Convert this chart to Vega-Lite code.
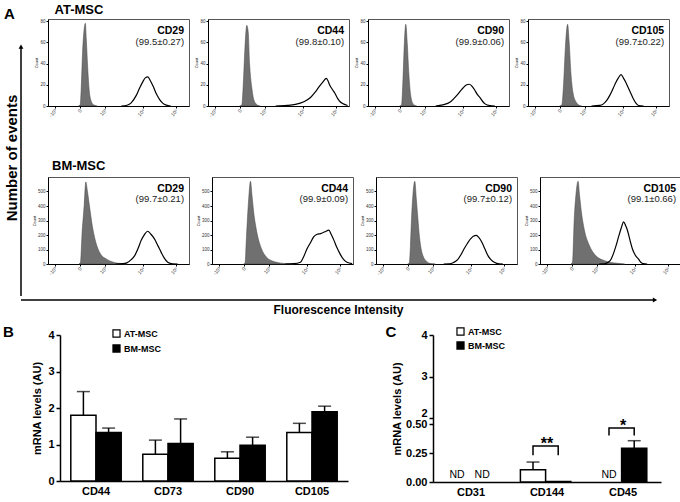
{
"$schema": "https://vega.github.io/schema/vega-lite/v6.json",
"background": "white",
"padding": {"left": 3, "top": 3, "right": 2, "bottom": 2},
"config": {
  "font": "Liberation Sans",
  "view": {"stroke": null},
  "axis": {"domainColor": "black", "tickColor": "black", "labelColor": "black", "titleColor": "black", "grid": false},
  "title": {"color": "black"},
  "legend": {"labelColor": "black"}
},
"resolve": {"scale": {"fill": "independent"}, "legend": {"fill": "independent"}},
"datasets": {
  "hist": [
    {"cell":"AT-MSC","marker":"CD29","s":"lab","name":"CD29","pct":"(99.5±0.27)"},
    {"cell":"AT-MSC","marker":"CD44","s":"lab","name":"CD44","pct":"(99.8±0.10)"},
    {"cell":"AT-MSC","marker":"CD90","s":"lab","name":"CD90","pct":"(99.9±0.06)"},
    {"cell":"AT-MSC","marker":"CD105","s":"lab","name":"CD105","pct":"(99.7±0.22)"},
    {"cell":"BM-MSC","marker":"CD29","s":"lab","name":"CD29","pct":"(99.7±0.21)"},
    {"cell":"BM-MSC","marker":"CD44","s":"lab","name":"CD44","pct":"(99.9±0.09)"},
    {"cell":"BM-MSC","marker":"CD90","s":"lab","name":"CD90","pct":"(99.7±0.12)"},
    {"cell":"BM-MSC","marker":"CD105","s":"lab","name":"CD105","pct":"(99.1±0.66)"},

    {"cell":"AT-MSC","marker":"CD29","s":"iso","ch":215,"n":0},
    {"cell":"AT-MSC","marker":"CD29","s":"iso","ch":228,"n":1},
    {"cell":"AT-MSC","marker":"CD29","s":"iso","ch":235,"n":15},
    {"cell":"AT-MSC","marker":"CD29","s":"iso","ch":245,"n":50},
    {"cell":"AT-MSC","marker":"CD29","s":"iso","ch":256,"n":72},
    {"cell":"AT-MSC","marker":"CD29","s":"iso","ch":265,"n":78},
    {"cell":"AT-MSC","marker":"CD29","s":"iso","ch":272,"n":62},
    {"cell":"AT-MSC","marker":"CD29","s":"iso","ch":282,"n":35},
    {"cell":"AT-MSC","marker":"CD29","s":"iso","ch":292,"n":15},
    {"cell":"AT-MSC","marker":"CD29","s":"iso","ch":305,"n":5},
    {"cell":"AT-MSC","marker":"CD29","s":"iso","ch":320,"n":1.5},
    {"cell":"AT-MSC","marker":"CD29","s":"iso","ch":350,"n":0},
    {"cell":"AT-MSC","marker":"CD29","s":"sample","ch":520,"n":0},
    {"cell":"AT-MSC","marker":"CD29","s":"sample","ch":555,"n":0.5},
    {"cell":"AT-MSC","marker":"CD29","s":"sample","ch":590,"n":3},
    {"cell":"AT-MSC","marker":"CD29","s":"sample","ch":626,"n":10},
    {"cell":"AT-MSC","marker":"CD29","s":"sample","ch":650,"n":17},
    {"cell":"AT-MSC","marker":"CD29","s":"sample","ch":673,"n":23},
    {"cell":"AT-MSC","marker":"CD29","s":"sample","ch":690,"n":26.5},
    {"cell":"AT-MSC","marker":"CD29","s":"sample","ch":709,"n":27.5},
    {"cell":"AT-MSC","marker":"CD29","s":"sample","ch":725,"n":24},
    {"cell":"AT-MSC","marker":"CD29","s":"sample","ch":744,"n":19},
    {"cell":"AT-MSC","marker":"CD29","s":"sample","ch":770,"n":11},
    {"cell":"AT-MSC","marker":"CD29","s":"sample","ch":792,"n":6},
    {"cell":"AT-MSC","marker":"CD29","s":"sample","ch":815,"n":2.5},
    {"cell":"AT-MSC","marker":"CD29","s":"sample","ch":839,"n":0.8},
    {"cell":"AT-MSC","marker":"CD29","s":"sample","ch":870,"n":0},

    {"cell":"AT-MSC","marker":"CD44","s":"iso","ch":225,"n":0},
    {"cell":"AT-MSC","marker":"CD44","s":"iso","ch":240,"n":1},
    {"cell":"AT-MSC","marker":"CD44","s":"iso","ch":250,"n":20},
    {"cell":"AT-MSC","marker":"CD44","s":"iso","ch":262,"n":55},
    {"cell":"AT-MSC","marker":"CD44","s":"iso","ch":275,"n":76},
    {"cell":"AT-MSC","marker":"CD44","s":"iso","ch":285,"n":70},
    {"cell":"AT-MSC","marker":"CD44","s":"iso","ch":295,"n":40},
    {"cell":"AT-MSC","marker":"CD44","s":"iso","ch":310,"n":18},
    {"cell":"AT-MSC","marker":"CD44","s":"iso","ch":325,"n":6},
    {"cell":"AT-MSC","marker":"CD44","s":"iso","ch":345,"n":1.5},
    {"cell":"AT-MSC","marker":"CD44","s":"iso","ch":370,"n":0},
    {"cell":"AT-MSC","marker":"CD44","s":"sample","ch":480,"n":0},
    {"cell":"AT-MSC","marker":"CD44","s":"sample","ch":560,"n":0.5},
    {"cell":"AT-MSC","marker":"CD44","s":"sample","ch":620,"n":1.5},
    {"cell":"AT-MSC","marker":"CD44","s":"sample","ch":680,"n":4},
    {"cell":"AT-MSC","marker":"CD44","s":"sample","ch":727,"n":8},
    {"cell":"AT-MSC","marker":"CD44","s":"sample","ch":760,"n":13},
    {"cell":"AT-MSC","marker":"CD44","s":"sample","ch":787,"n":18},
    {"cell":"AT-MSC","marker":"CD44","s":"sample","ch":817,"n":23},
    {"cell":"AT-MSC","marker":"CD44","s":"sample","ch":839,"n":26},
    {"cell":"AT-MSC","marker":"CD44","s":"sample","ch":850,"n":24},
    {"cell":"AT-MSC","marker":"CD44","s":"sample","ch":862,"n":20},
    {"cell":"AT-MSC","marker":"CD44","s":"sample","ch":880,"n":16},
    {"cell":"AT-MSC","marker":"CD44","s":"sample","ch":900,"n":12},
    {"cell":"AT-MSC","marker":"CD44","s":"sample","ch":920,"n":7},
    {"cell":"AT-MSC","marker":"CD44","s":"sample","ch":937,"n":4},
    {"cell":"AT-MSC","marker":"CD44","s":"sample","ch":960,"n":2},
    {"cell":"AT-MSC","marker":"CD44","s":"sample","ch":990,"n":0.5},

    {"cell":"AT-MSC","marker":"CD90","s":"iso","ch":225,"n":0},
    {"cell":"AT-MSC","marker":"CD90","s":"iso","ch":238,"n":1},
    {"cell":"AT-MSC","marker":"CD90","s":"iso","ch":248,"n":25},
    {"cell":"AT-MSC","marker":"CD90","s":"iso","ch":258,"n":60},
    {"cell":"AT-MSC","marker":"CD90","s":"iso","ch":268,"n":77},
    {"cell":"AT-MSC","marker":"CD90","s":"iso","ch":278,"n":60},
    {"cell":"AT-MSC","marker":"CD90","s":"iso","ch":290,"n":30},
    {"cell":"AT-MSC","marker":"CD90","s":"iso","ch":303,"n":10},
    {"cell":"AT-MSC","marker":"CD90","s":"iso","ch":320,"n":2},
    {"cell":"AT-MSC","marker":"CD90","s":"iso","ch":345,"n":0},
    {"cell":"AT-MSC","marker":"CD90","s":"sample","ch":480,"n":0},
    {"cell":"AT-MSC","marker":"CD90","s":"sample","ch":530,"n":1},
    {"cell":"AT-MSC","marker":"CD90","s":"sample","ch":586,"n":4},
    {"cell":"AT-MSC","marker":"CD90","s":"sample","ch":630,"n":10},
    {"cell":"AT-MSC","marker":"CD90","s":"sample","ch":674,"n":17},
    {"cell":"AT-MSC","marker":"CD90","s":"sample","ch":700,"n":20},
    {"cell":"AT-MSC","marker":"CD90","s":"sample","ch":719,"n":20.5},
    {"cell":"AT-MSC","marker":"CD90","s":"sample","ch":735,"n":19},
    {"cell":"AT-MSC","marker":"CD90","s":"sample","ch":752,"n":16},
    {"cell":"AT-MSC","marker":"CD90","s":"sample","ch":775,"n":11},
    {"cell":"AT-MSC","marker":"CD90","s":"sample","ch":799,"n":7},
    {"cell":"AT-MSC","marker":"CD90","s":"sample","ch":815,"n":4},
    {"cell":"AT-MSC","marker":"CD90","s":"sample","ch":830,"n":2},
    {"cell":"AT-MSC","marker":"CD90","s":"sample","ch":864,"n":0.3},
    {"cell":"AT-MSC","marker":"CD90","s":"sample","ch":900,"n":0},

    {"cell":"AT-MSC","marker":"CD105","s":"iso","ch":225,"n":0},
    {"cell":"AT-MSC","marker":"CD105","s":"iso","ch":240,"n":1},
    {"cell":"AT-MSC","marker":"CD105","s":"iso","ch":252,"n":20},
    {"cell":"AT-MSC","marker":"CD105","s":"iso","ch":265,"n":55},
    {"cell":"AT-MSC","marker":"CD105","s":"iso","ch":281,"n":77},
    {"cell":"AT-MSC","marker":"CD105","s":"iso","ch":292,"n":60},
    {"cell":"AT-MSC","marker":"CD105","s":"iso","ch":305,"n":30},
    {"cell":"AT-MSC","marker":"CD105","s":"iso","ch":320,"n":12},
    {"cell":"AT-MSC","marker":"CD105","s":"iso","ch":340,"n":4},
    {"cell":"AT-MSC","marker":"CD105","s":"iso","ch":360,"n":1},
    {"cell":"AT-MSC","marker":"CD105","s":"iso","ch":380,"n":0},
    {"cell":"AT-MSC","marker":"CD105","s":"sample","ch":450,"n":0},
    {"cell":"AT-MSC","marker":"CD105","s":"sample","ch":508,"n":0.5},
    {"cell":"AT-MSC","marker":"CD105","s":"sample","ch":535,"n":2},
    {"cell":"AT-MSC","marker":"CD105","s":"sample","ch":557,"n":5},
    {"cell":"AT-MSC","marker":"CD105","s":"sample","ch":580,"n":10},
    {"cell":"AT-MSC","marker":"CD105","s":"sample","ch":605,"n":17},
    {"cell":"AT-MSC","marker":"CD105","s":"sample","ch":622,"n":22},
    {"cell":"AT-MSC","marker":"CD105","s":"sample","ch":639,"n":26},
    {"cell":"AT-MSC","marker":"CD105","s":"sample","ch":660,"n":29.5},
    {"cell":"AT-MSC","marker":"CD105","s":"sample","ch":678,"n":26},
    {"cell":"AT-MSC","marker":"CD105","s":"sample","ch":695,"n":22},
    {"cell":"AT-MSC","marker":"CD105","s":"sample","ch":712,"n":17},
    {"cell":"AT-MSC","marker":"CD105","s":"sample","ch":729,"n":12},
    {"cell":"AT-MSC","marker":"CD105","s":"sample","ch":746,"n":7},
    {"cell":"AT-MSC","marker":"CD105","s":"sample","ch":764,"n":3},
    {"cell":"AT-MSC","marker":"CD105","s":"sample","ch":784,"n":0.5},
    {"cell":"AT-MSC","marker":"CD105","s":"sample","ch":820,"n":0},

    {"cell":"BM-MSC","marker":"CD29","s":"iso","ch":220,"n":0},
    {"cell":"BM-MSC","marker":"CD29","s":"iso","ch":230,"n":10},
    {"cell":"BM-MSC","marker":"CD29","s":"iso","ch":241,"n":200},
    {"cell":"BM-MSC","marker":"CD29","s":"iso","ch":257,"n":410},
    {"cell":"BM-MSC","marker":"CD29","s":"iso","ch":268,"n":566},
    {"cell":"BM-MSC","marker":"CD29","s":"iso","ch":280,"n":500},
    {"cell":"BM-MSC","marker":"CD29","s":"iso","ch":293,"n":408},
    {"cell":"BM-MSC","marker":"CD29","s":"iso","ch":315,"n":259},
    {"cell":"BM-MSC","marker":"CD29","s":"iso","ch":338,"n":154},
    {"cell":"BM-MSC","marker":"CD29","s":"iso","ch":372,"n":70},
    {"cell":"BM-MSC","marker":"CD29","s":"iso","ch":413,"n":35},
    {"cell":"BM-MSC","marker":"CD29","s":"iso","ch":459,"n":14},
    {"cell":"BM-MSC","marker":"CD29","s":"iso","ch":526,"n":2},
    {"cell":"BM-MSC","marker":"CD29","s":"iso","ch":560,"n":0},
    {"cell":"BM-MSC","marker":"CD29","s":"sample","ch":480,"n":0},
    {"cell":"BM-MSC","marker":"CD29","s":"sample","ch":530,"n":2},
    {"cell":"BM-MSC","marker":"CD29","s":"sample","ch":559,"n":8},
    {"cell":"BM-MSC","marker":"CD29","s":"sample","ch":590,"n":30},
    {"cell":"BM-MSC","marker":"CD29","s":"sample","ch":615,"n":58},
    {"cell":"BM-MSC","marker":"CD29","s":"sample","ch":640,"n":110},
    {"cell":"BM-MSC","marker":"CD29","s":"sample","ch":661,"n":163},
    {"cell":"BM-MSC","marker":"CD29","s":"sample","ch":685,"n":205},
    {"cell":"BM-MSC","marker":"CD29","s":"sample","ch":707,"n":226},
    {"cell":"BM-MSC","marker":"CD29","s":"sample","ch":730,"n":205},
    {"cell":"BM-MSC","marker":"CD29","s":"sample","ch":754,"n":175},
    {"cell":"BM-MSC","marker":"CD29","s":"sample","ch":780,"n":125},
    {"cell":"BM-MSC","marker":"CD29","s":"sample","ch":802,"n":82},
    {"cell":"BM-MSC","marker":"CD29","s":"sample","ch":825,"n":40},
    {"cell":"BM-MSC","marker":"CD29","s":"sample","ch":849,"n":12},
    {"cell":"BM-MSC","marker":"CD29","s":"sample","ch":884,"n":1},
    {"cell":"BM-MSC","marker":"CD29","s":"sample","ch":920,"n":0},

    {"cell":"BM-MSC","marker":"CD44","s":"iso","ch":225,"n":0},
    {"cell":"BM-MSC","marker":"CD44","s":"iso","ch":234,"n":5},
    {"cell":"BM-MSC","marker":"CD44","s":"iso","ch":245,"n":200},
    {"cell":"BM-MSC","marker":"CD44","s":"iso","ch":259,"n":433},
    {"cell":"BM-MSC","marker":"CD44","s":"iso","ch":273,"n":571},
    {"cell":"BM-MSC","marker":"CD44","s":"iso","ch":284,"n":470},
    {"cell":"BM-MSC","marker":"CD44","s":"iso","ch":295,"n":363},
    {"cell":"BM-MSC","marker":"CD44","s":"iso","ch":317,"n":224},
    {"cell":"BM-MSC","marker":"CD44","s":"iso","ch":351,"n":105},
    {"cell":"BM-MSC","marker":"CD44","s":"iso","ch":385,"n":49},
    {"cell":"BM-MSC","marker":"CD44","s":"iso","ch":443,"n":16},
    {"cell":"BM-MSC","marker":"CD44","s":"iso","ch":532,"n":2},
    {"cell":"BM-MSC","marker":"CD44","s":"iso","ch":580,"n":0},
    {"cell":"BM-MSC","marker":"CD44","s":"sample","ch":520,"n":0},
    {"cell":"BM-MSC","marker":"CD44","s":"sample","ch":580,"n":2},
    {"cell":"BM-MSC","marker":"CD44","s":"sample","ch":627,"n":12},
    {"cell":"BM-MSC","marker":"CD44","s":"sample","ch":650,"n":50},
    {"cell":"BM-MSC","marker":"CD44","s":"sample","ch":674,"n":105},
    {"cell":"BM-MSC","marker":"CD44","s":"sample","ch":700,"n":150},
    {"cell":"BM-MSC","marker":"CD44","s":"sample","ch":721,"n":187},
    {"cell":"BM-MSC","marker":"CD44","s":"sample","ch":745,"n":205},
    {"cell":"BM-MSC","marker":"CD44","s":"sample","ch":769,"n":210},
    {"cell":"BM-MSC","marker":"CD44","s":"sample","ch":800,"n":222},
    {"cell":"BM-MSC","marker":"CD44","s":"sample","ch":829,"n":233},
    {"cell":"BM-MSC","marker":"CD44","s":"sample","ch":845,"n":205},
    {"cell":"BM-MSC","marker":"CD44","s":"sample","ch":865,"n":163},
    {"cell":"BM-MSC","marker":"CD44","s":"sample","ch":885,"n":115},
    {"cell":"BM-MSC","marker":"CD44","s":"sample","ch":908,"n":70},
    {"cell":"BM-MSC","marker":"CD44","s":"sample","ch":930,"n":35},
    {"cell":"BM-MSC","marker":"CD44","s":"sample","ch":957,"n":12},
    {"cell":"BM-MSC","marker":"CD44","s":"sample","ch":994,"n":3},

    {"cell":"BM-MSC","marker":"CD90","s":"iso","ch":225,"n":0},
    {"cell":"BM-MSC","marker":"CD90","s":"iso","ch":236,"n":5},
    {"cell":"BM-MSC","marker":"CD90","s":"iso","ch":244,"n":120},
    {"cell":"BM-MSC","marker":"CD90","s":"iso","ch":252,"n":315},
    {"cell":"BM-MSC","marker":"CD90","s":"iso","ch":262,"n":480},
    {"cell":"BM-MSC","marker":"CD90","s":"iso","ch":275,"n":571},
    {"cell":"BM-MSC","marker":"CD90","s":"iso","ch":286,"n":450},
    {"cell":"BM-MSC","marker":"CD90","s":"iso","ch":297,"n":315},
    {"cell":"BM-MSC","marker":"CD90","s":"iso","ch":308,"n":190},
    {"cell":"BM-MSC","marker":"CD90","s":"iso","ch":320,"n":105},
    {"cell":"BM-MSC","marker":"CD90","s":"iso","ch":336,"n":50},
    {"cell":"BM-MSC","marker":"CD90","s":"iso","ch":354,"n":23},
    {"cell":"BM-MSC","marker":"CD90","s":"iso","ch":388,"n":3},
    {"cell":"BM-MSC","marker":"CD90","s":"iso","ch":420,"n":0},
    {"cell":"BM-MSC","marker":"CD90","s":"sample","ch":480,"n":0},
    {"cell":"BM-MSC","marker":"CD90","s":"sample","ch":521,"n":1},
    {"cell":"BM-MSC","marker":"CD90","s":"sample","ch":550,"n":10},
    {"cell":"BM-MSC","marker":"CD90","s":"sample","ch":579,"n":30},
    {"cell":"BM-MSC","marker":"CD90","s":"sample","ch":600,"n":60},
    {"cell":"BM-MSC","marker":"CD90","s":"sample","ch":625,"n":105},
    {"cell":"BM-MSC","marker":"CD90","s":"sample","ch":650,"n":145},
    {"cell":"BM-MSC","marker":"CD90","s":"sample","ch":672,"n":175},
    {"cell":"BM-MSC","marker":"CD90","s":"sample","ch":690,"n":192},
    {"cell":"BM-MSC","marker":"CD90","s":"sample","ch":712,"n":198},
    {"cell":"BM-MSC","marker":"CD90","s":"sample","ch":730,"n":182},
    {"cell":"BM-MSC","marker":"CD90","s":"sample","ch":750,"n":152},
    {"cell":"BM-MSC","marker":"CD90","s":"sample","ch":772,"n":105},
    {"cell":"BM-MSC","marker":"CD90","s":"sample","ch":794,"n":58},
    {"cell":"BM-MSC","marker":"CD90","s":"sample","ch":815,"n":30},
    {"cell":"BM-MSC","marker":"CD90","s":"sample","ch":839,"n":12},
    {"cell":"BM-MSC","marker":"CD90","s":"sample","ch":873,"n":1},
    {"cell":"BM-MSC","marker":"CD90","s":"sample","ch":900,"n":0},

    {"cell":"BM-MSC","marker":"CD105","s":"iso","ch":220,"n":0},
    {"cell":"BM-MSC","marker":"CD105","s":"iso","ch":230,"n":10},
    {"cell":"BM-MSC","marker":"CD105","s":"iso","ch":243,"n":315},
    {"cell":"BM-MSC","marker":"CD105","s":"iso","ch":256,"n":490},
    {"cell":"BM-MSC","marker":"CD105","s":"iso","ch":270,"n":571},
    {"cell":"BM-MSC","marker":"CD105","s":"iso","ch":281,"n":470},
    {"cell":"BM-MSC","marker":"CD105","s":"iso","ch":293,"n":363},
    {"cell":"BM-MSC","marker":"CD105","s":"iso","ch":315,"n":233},
    {"cell":"BM-MSC","marker":"CD105","s":"iso","ch":350,"n":128},
    {"cell":"BM-MSC","marker":"CD105","s":"iso","ch":395,"n":58},
    {"cell":"BM-MSC","marker":"CD105","s":"iso","ch":458,"n":23},
    {"cell":"BM-MSC","marker":"CD105","s":"iso","ch":549,"n":5},
    {"cell":"BM-MSC","marker":"CD105","s":"iso","ch":600,"n":0},
    {"cell":"BM-MSC","marker":"CD105","s":"sample","ch":420,"n":0},
    {"cell":"BM-MSC","marker":"CD105","s":"sample","ch":458,"n":1},
    {"cell":"BM-MSC","marker":"CD105","s":"sample","ch":480,"n":10},
    {"cell":"BM-MSC","marker":"CD105","s":"sample","ch":505,"n":35},
    {"cell":"BM-MSC","marker":"CD105","s":"sample","ch":522,"n":75},
    {"cell":"BM-MSC","marker":"CD105","s":"sample","ch":540,"n":128},
    {"cell":"BM-MSC","marker":"CD105","s":"sample","ch":558,"n":190},
    {"cell":"BM-MSC","marker":"CD105","s":"sample","ch":575,"n":245},
    {"cell":"BM-MSC","marker":"CD105","s":"sample","ch":593,"n":291},
    {"cell":"BM-MSC","marker":"CD105","s":"sample","ch":607,"n":265},
    {"cell":"BM-MSC","marker":"CD105","s":"sample","ch":620,"n":233},
    {"cell":"BM-MSC","marker":"CD105","s":"sample","ch":638,"n":165},
    {"cell":"BM-MSC","marker":"CD105","s":"sample","ch":655,"n":105},
    {"cell":"BM-MSC","marker":"CD105","s":"sample","ch":676,"n":60},
    {"cell":"BM-MSC","marker":"CD105","s":"sample","ch":698,"n":35},
    {"cell":"BM-MSC","marker":"CD105","s":"sample","ch":715,"n":12},
    {"cell":"BM-MSC","marker":"CD105","s":"sample","ch":733,"n":2},
    {"cell":"BM-MSC","marker":"CD105","s":"sample","ch":760,"n":0}
  ],
  "b": [
    {"marker":"CD44","group":"AT-MSC","mean":1.8,"upper":2.45},
    {"marker":"CD44","group":"BM-MSC","mean":1.33,"upper":1.45},
    {"marker":"CD73","group":"AT-MSC","mean":0.73,"upper":1.12},
    {"marker":"CD73","group":"BM-MSC","mean":1.03,"upper":1.7},
    {"marker":"CD90","group":"AT-MSC","mean":0.62,"upper":0.8},
    {"marker":"CD90","group":"BM-MSC","mean":0.98,"upper":1.2},
    {"marker":"CD105","group":"AT-MSC","mean":1.33,"upper":1.58},
    {"marker":"CD105","group":"BM-MSC","mean":1.9,"upper":2.05}
  ],
  "c": [
    {"marker":"CD31","group":"AT-MSC","nd":true},
    {"marker":"CD31","group":"BM-MSC","nd":true},
    {"marker":"CD144","group":"AT-MSC","nd":false,"mean":0.106,"upper":0.172},
    {"marker":"CD144","group":"BM-MSC","nd":false,"mean":0.005},
    {"marker":"CD45","group":"AT-MSC","nd":true},
    {"marker":"CD45","group":"BM-MSC","nd":false,"mean":0.292,"upper":0.356}
  ],
  "br": [
    {"marker":"CD144","group":"AT-MSC","v":0.23,"k":1},
    {"marker":"CD144","group":"AT-MSC","v":0.31,"k":2},
    {"marker":"CD144","group":"BM-MSC","v":0.31,"k":3},
    {"marker":"CD144","group":"BM-MSC","v":0.23,"k":4},
    {"marker":"CD45","group":"AT-MSC","v":0.40,"k":1},
    {"marker":"CD45","group":"AT-MSC","v":0.465,"k":2},
    {"marker":"CD45","group":"BM-MSC","v":0.465,"k":3},
    {"marker":"CD45","group":"BM-MSC","v":0.40,"k":4}
  ],
  "star": [
    {"marker":"CD144","v":0.31,"label":"**"},
    {"marker":"CD45","v":0.465,"label":"*"}
  ]
},
"spacing": 10,
"vconcat": [
  {
    "spacing": 0,
    "vconcat": [
      {
        "spacing": 0,
        "hconcat": [
          {
            "width": 10, "height": 277,
            "title": {"text": "A", "anchor": "start", "frame": "bounds", "fontSize": 15, "fontWeight": "bold", "offset": -3},
            "data": {"values": [{}]},
            "layer": [
              {"mark": {"type": "rule", "color": "black", "strokeWidth": 1.5},
               "encoding": {
                 "x": {"datum": 0, "type": "quantitative", "scale": {"domain": [0, 1], "nice": false}, "axis": null},
                 "y": {"datum": 0, "type": "quantitative", "scale": {"domain": [0, 1], "nice": false},
                       "axis": {"title": "Number of events", "titleFontSize": 15, "titleFontWeight": "bold", "titlePadding": 2, "domain": false, "ticks": false, "labels": false}},
                 "y2": {"datum": 0.9}}},
              {"mark": {"type": "point", "shape": "triangle-up", "filled": true, "color": "black", "size": 24, "opacity": 1},
               "encoding": {"x": {"datum": 0, "type": "quantitative"}, "y": {"datum": 0.9, "type": "quantitative"}}}
            ]
          },
          {
            "spacing": 40,
            "vconcat": [
              {
                "data": {"name": "hist"},
                "transform": [{"filter": "datum.cell === 'AT-MSC'"}],
                "title": {"text": "AT-MSC", "anchor": "start", "frame": "bounds", "dx": 20, "fontSize": 13, "fontWeight": "bold", "offset": 1},
                "facet": {"column": {"field": "marker", "type": "nominal", "sort": ["CD29", "CD44", "CD90", "CD105"], "header": {"labels": false, "title": null}}},
                "spacing": 3,
                "resolve": {"axis": {"x": "independent", "y": "independent"}},
                "spec": {
                  "width": 141, "height": 87,
                  "view": {"stroke": "#555"},
                  "layer": [
                    {"transform": [{"filter": "datum.s === 'iso'"}],
                     "mark": {"type": "area", "color": "#707070", "interpolate": "monotone", "stroke": "#444", "strokeWidth": 0.5},
                     "encoding": {
                       "x": {"field": "ch", "type": "quantitative", "scale": {"domain": [0, 1000], "nice": false},
                             "axis": {"values": [50, 227, 404, 674, 908], "tickCount": 20, "labelExpr": "datum.value == 50 ? '-10³' : datum.value == 227 ? '0' : datum.value == 404 ? '10³' : datum.value == 674 ? '10⁴' : '10⁵'", "title": null, "labelFontSize": 5, "labelAngle": -50, "tickSize": 2, "labelPadding": 1, "labelColor": "#333", "labelOverlap": false}},
                       "y": {"field": "n", "type": "quantitative", "scale": {"domain": [0, 82], "nice": false},
                             "axis": {"values": [0, 20, 40, 60, 80], "tickCount": 20, "format": "d", "title": "Count", "titleFontSize": 4, "titleFontWeight": "normal", "titlePadding": 1, "labelFontSize": 4.5, "tickSize": 2, "labelPadding": 1, "labelColor": "#333", "labelOverlap": false}}}},
                    {"transform": [{"filter": "datum.s === 'sample'"}],
                     "mark": {"type": "line", "color": "black", "strokeWidth": 1.2, "interpolate": "monotone"},
                     "encoding": {"x": {"field": "ch", "type": "quantitative"}, "y": {"field": "n", "type": "quantitative"}}},
                    {"transform": [{"filter": "datum.s === 'lab'"}],
                     "mark": {"type": "text", "align": "right", "baseline": "middle", "fontWeight": "bold", "fontSize": 10.5, "color": "black"},
                     "encoding": {"x": {"datum": 965, "type": "quantitative"}, "y": {"datum": 71, "type": "quantitative"}, "text": {"field": "name"}}},
                    {"transform": [{"filter": "datum.s === 'lab'"}],
                     "mark": {"type": "text", "align": "right", "baseline": "middle", "fontSize": 9.5, "color": "#222"},
                     "encoding": {"x": {"datum": 965, "type": "quantitative"}, "y": {"datum": 60, "type": "quantitative"}, "text": {"field": "pct"}}}
                  ]
                }
              },
              {
                "data": {"name": "hist"},
                "transform": [{"filter": "datum.cell === 'BM-MSC'"}],
                "title": {"text": "BM-MSC", "anchor": "start", "frame": "bounds", "dx": 20, "fontSize": 13, "fontWeight": "bold", "offset": 4},
                "facet": {"column": {"field": "marker", "type": "nominal", "sort": ["CD29", "CD44", "CD90", "CD105"], "header": {"labels": false, "title": null}}},
                "spacing": 3,
                "resolve": {"axis": {"x": "independent", "y": "independent"}},
                "spec": {
                  "width": 141, "height": 87,
                  "view": {"stroke": "#555"},
                  "layer": [
                    {"transform": [{"filter": "datum.s === 'iso'"}],
                     "mark": {"type": "area", "color": "#707070", "interpolate": "monotone", "stroke": "#444", "strokeWidth": 0.5},
                     "encoding": {
                       "x": {"field": "ch", "type": "quantitative", "scale": {"domain": [0, 1000], "nice": false},
                             "axis": {"values": [50, 227, 404, 674, 908], "tickCount": 20, "labelExpr": "datum.value == 50 ? '-10³' : datum.value == 227 ? '0' : datum.value == 404 ? '10³' : datum.value == 674 ? '10⁴' : '10⁵'", "title": null, "labelFontSize": 5, "labelAngle": -50, "tickSize": 2, "labelPadding": 1, "labelColor": "#333", "labelOverlap": false}},
                       "y": {"field": "n", "type": "quantitative", "scale": {"domain": [0, 600], "nice": false},
                             "axis": {"values": [0, 100, 200, 300, 400, 500], "tickCount": 20, "format": "d", "title": "Count", "titleFontSize": 4, "titleFontWeight": "normal", "titlePadding": 1, "labelFontSize": 4.5, "tickSize": 2, "labelPadding": 1, "labelColor": "#333", "labelOverlap": false}}}},
                    {"transform": [{"filter": "datum.s === 'sample'"}],
                     "mark": {"type": "line", "color": "black", "strokeWidth": 1.2, "interpolate": "monotone"},
                     "encoding": {"x": {"field": "ch", "type": "quantitative"}, "y": {"field": "n", "type": "quantitative"}}},
                    {"transform": [{"filter": "datum.s === 'lab'"}],
                     "mark": {"type": "text", "align": "right", "baseline": "middle", "fontWeight": "bold", "fontSize": 10.5, "color": "black"},
                     "encoding": {"x": {"datum": 965, "type": "quantitative"}, "y": {"datum": 520, "type": "quantitative"}, "text": {"field": "name"}}},
                    {"transform": [{"filter": "datum.s === 'lab'"}],
                     "mark": {"type": "text", "align": "right", "baseline": "middle", "fontSize": 9.5, "color": "#222"},
                     "encoding": {"x": {"datum": 965, "type": "quantitative"}, "y": {"datum": 445, "type": "quantitative"}, "text": {"field": "pct"}}}
                  ]
                }
              }
            ]
          }
        ]
      },
      {
        "width": 634, "height": 1,
        "data": {"values": [{}]},
        "layer": [
          {"mark": {"type": "rule", "color": "black", "strokeWidth": 1.5},
           "encoding": {
             "x": {"datum": 0, "type": "quantitative", "scale": {"domain": [0, 1], "nice": false},
                   "axis": {"title": "Fluorescence Intensity", "titleFontSize": 12, "titleFontWeight": "bold", "titlePadding": 3, "domain": false, "ticks": false, "labels": false}},
             "x2": {"datum": 1},
             "y": {"datum": 1, "type": "quantitative", "scale": {"domain": [0, 1], "nice": false}, "axis": null}}},
          {"mark": {"type": "point", "shape": "triangle-right", "filled": true, "color": "black", "size": 24, "opacity": 1},
           "encoding": {"x": {"datum": 1, "type": "quantitative"}, "y": {"datum": 1, "type": "quantitative"}}}
        ]
      }
    ]
  },
  {
    "spacing": 6,
    "resolve": {"scale": {"fill": "independent"}, "legend": {"fill": "independent"}},
    "hconcat": [
      {
        "width": 1, "height": 146,
        "title": {"text": "B", "anchor": "start", "frame": "group", "fontSize": 15, "fontWeight": "bold", "dx": -18, "offset": -5},
        "data": {"values": [{}]},
        "mark": {"type": "point", "opacity": 0},
        "encoding": {}
      },
      {
        "spacing": 37,
        "resolve": {"scale": {"fill": "independent"}, "legend": {"fill": "independent"}},
        "hconcat": [
          {
            "width": 288, "height": 146,
            "data": {"name": "b"},
            "encoding": {
              "x": {"field": "marker", "type": "nominal", "sort": ["CD44", "CD73", "CD90", "CD105"], "scale": {"paddingInner": 0.3, "paddingOuter": 0.15},
                    "axis": {"title": null, "labelAngle": 0, "ticks": false, "labelFontSize": 11, "labelFontWeight": "bold", "domainWidth": 1.5, "labelPadding": 4}},
              "xOffset": {"field": "group", "type": "nominal", "sort": ["AT-MSC", "BM-MSC"]}
            },
            "layer": [
              {"mark": {"type": "bar", "stroke": "black", "strokeWidth": 1.5},
               "encoding": {
                 "y": {"field": "mean", "type": "quantitative", "title": "mRNA levels (AU)", "scale": {"domain": [0, 4], "nice": false},
                       "axis": {"values": [0, 1, 2, 3, 4], "tickCount": 20, "format": "d", "labelOverlap": false, "titleFontSize": 11, "titleFontWeight": "bold", "titlePadding": 5, "labelFontSize": 11, "labelFontWeight": "bold", "tickSize": 4, "tickWidth": 1.5, "domainWidth": 1.5, "labelPadding": 2}},
                 "fill": {"field": "group", "type": "nominal", "scale": {"domain": ["AT-MSC", "BM-MSC"], "range": ["white", "black"]},
                          "legend": {"title": null, "orient": "none", "legendX": 52, "legendY": -6, "symbolType": "square", "symbolSize": 50, "symbolStrokeColor": "black", "symbolStrokeWidth": 1.2, "labelFontSize": 9, "labelFontWeight": "bold", "rowPadding": 2, "labelOffset": 3}}}},
              {"mark": {"type": "rule", "color": "black", "strokeWidth": 1.5},
               "encoding": {"y": {"field": "mean", "type": "quantitative", "title": "mRNA levels (AU)"}, "y2": {"field": "upper"}}},
              {"mark": {"type": "tick", "color": "black", "thickness": 1.5, "size": 13},
               "encoding": {"y": {"field": "upper", "type": "quantitative", "title": "mRNA levels (AU)"}}}
            ]
          },
          {
            "width": 228, "height": 147,
            "title": {"text": "C", "anchor": "start", "frame": "bounds", "fontSize": 15, "fontWeight": "bold", "dx": -6, "offset": -13},
            "data": {"name": "c"},
            "encoding": {
              "x": {"field": "marker", "type": "nominal", "sort": ["CD31", "CD144", "CD45"], "scale": {"paddingInner": 0.3, "paddingOuter": 0.15},
                    "axis": {"title": null, "labelAngle": 0, "ticks": false, "labelFontSize": 11, "labelFontWeight": "bold", "domainWidth": 1.5, "labelPadding": 4}}
            },
            "layer": [
              {"transform": [{"filter": "!datum.nd"}],
               "mark": {"type": "bar", "stroke": "black", "strokeWidth": 1.5},
               "encoding": {
                 "xOffset": {"field": "group", "type": "nominal", "sort": ["AT-MSC", "BM-MSC"], "scale": {"domain": ["AT-MSC", "BM-MSC"]}},
                 "y": {"field": "mean", "type": "quantitative", "title": "mRNA levels (AU)", "scale": {"domain": [0, 0.5, 2, 4], "range": [147, 89, 83, 0], "nice": false, "zero": false},
                       "axis": {"values": [0, 0.25, 0.5, 2, 3, 4], "tickCount": 20, "labelExpr": "datum.value < 1 ? format(datum.value, '.2f') : format(datum.value, 'd')", "labelBaseline": {"condition": {"test": "datum.value == 2", "value": "bottom"}, "value": "middle"}, "labelOverlap": false, "titleFontSize": 11, "titleFontWeight": "bold", "titlePadding": 3, "labelFontSize": 11, "labelFontWeight": "bold", "tickSize": 4, "tickWidth": 1.5, "domainWidth": 1.5, "labelPadding": 2}},
                 "fill": {"field": "group", "type": "nominal", "scale": {"domain": ["AT-MSC", "BM-MSC"], "range": ["white", "black"]},
                          "legend": {"title": null, "orient": "none", "legendX": 23, "legendY": -8, "symbolType": "square", "symbolSize": 50, "symbolStrokeColor": "black", "symbolStrokeWidth": 1.2, "labelFontSize": 9, "labelFontWeight": "bold", "rowPadding": 1, "labelOffset": 3}}}},
              {"transform": [{"filter": "datum.upper != null"}],
               "mark": {"type": "rule", "color": "black", "strokeWidth": 1.5},
               "encoding": {"xOffset": {"field": "group", "type": "nominal", "sort": ["AT-MSC", "BM-MSC"]}, "y": {"field": "mean", "type": "quantitative", "title": "mRNA levels (AU)"}, "y2": {"field": "upper"}}},
              {"transform": [{"filter": "datum.upper != null"}],
               "mark": {"type": "tick", "color": "black", "thickness": 1.5, "size": 13},
               "encoding": {"xOffset": {"field": "group", "type": "nominal", "sort": ["AT-MSC", "BM-MSC"]}, "y": {"field": "upper", "type": "quantitative", "title": "mRNA levels (AU)"}}},
              {"transform": [{"filter": "datum.nd"}],
               "mark": {"type": "text", "baseline": "bottom", "dy": -2, "fontSize": 10.5, "color": "black"},
               "encoding": {"xOffset": {"field": "group", "type": "nominal", "sort": ["AT-MSC", "BM-MSC"]}, "y": {"datum": 0, "type": "quantitative"}, "text": {"value": "ND"}}},
              {"data": {"name": "br"},
               "mark": {"type": "line", "color": "black", "strokeWidth": 1.5},
               "encoding": {"xOffset": {"field": "group", "type": "nominal", "sort": ["AT-MSC", "BM-MSC"]}, "y": {"field": "v", "type": "quantitative", "title": "mRNA levels (AU)"}, "detail": {"field": "marker"}, "order": {"field": "k"}}},
              {"data": {"name": "star"},
               "mark": {"type": "text", "baseline": "bottom", "dy": 6, "fontSize": 16, "fontWeight": "bold", "color": "black"},
               "encoding": {"y": {"field": "v", "type": "quantitative", "title": "mRNA levels (AU)"}, "text": {"field": "label"}}}
            ]
          }
        ]
      }
    ]
  }
]
}
